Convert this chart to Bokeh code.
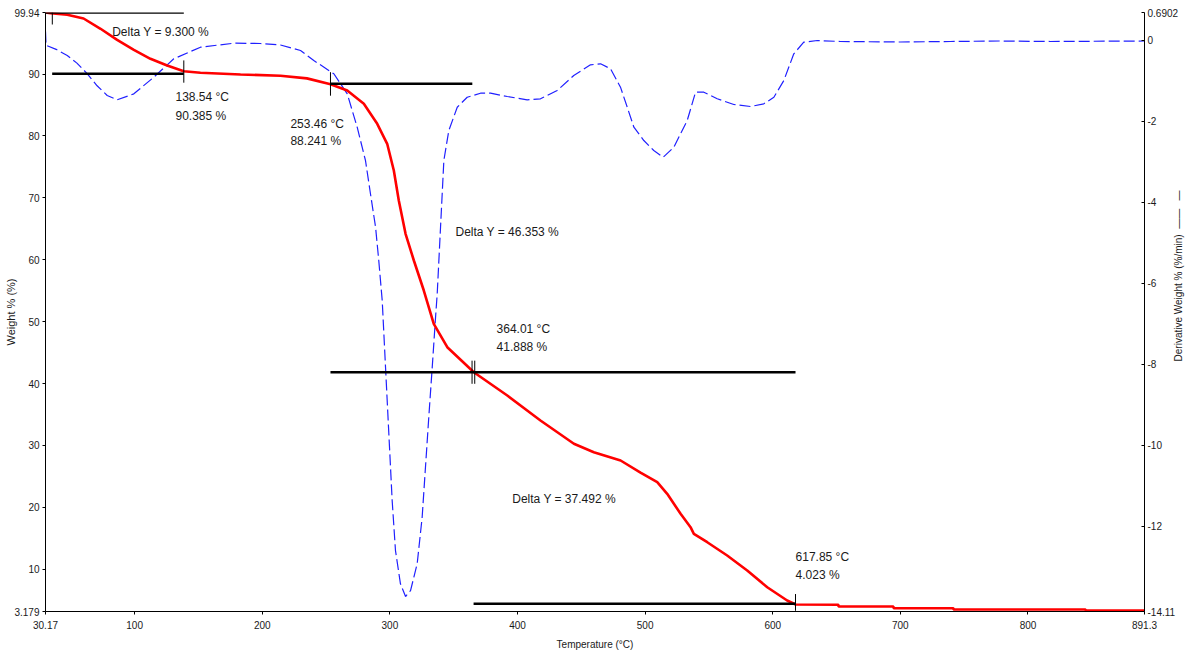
import math
from bokeh.plotting import figure
from bokeh.models import Range1d, LinearAxis, FixedTicker, Label
from bokeh.embed import file_html
from bokeh.resources import INLINE

# ---- data: weight (TGA) curve ----
temp_w = [30.17, 34.1, 47.2, 60.0, 73.3, 86.3, 99.4, 112.4, 125.5, 138.5, 151.6, 183.0,
          214.3, 235.0, 253.5, 266.6, 279.6, 290.1, 297.9, 303.1, 307.0, 312.3, 318.8,
          326.6, 334.4, 345.0, 365.8, 392.0, 418.0, 444.2, 459.8, 480.8, 496.4, 509.5,
          517.3, 527.8, 535.6, 538.2, 548.7, 564.3, 580.0, 595.7, 611.3, 617.9, 651.5,
          651.6, 694.6, 694.7, 741.6, 741.7, 845.1, 845.2, 891.3]
weight = [99.94, 99.83, 99.57, 98.97, 97.31, 95.53, 93.91, 92.46, 91.38, 90.45, 90.20,
          89.93, 89.72, 89.30, 88.35, 87.34, 85.19, 81.96, 78.73, 74.42, 69.57, 64.19,
          59.88, 55.03, 49.65, 45.87, 41.83, 38.07, 34.03, 30.27, 28.91, 27.57, 25.63,
          24.07, 22.19, 18.96, 16.80, 15.73, 14.37, 12.22, 9.80, 7.10, 4.95, 4.31, 4.26,
          3.98, 3.98, 3.71, 3.71, 3.50, 3.50, 3.34, 3.34]

# ---- data: derivative weight (DTG) curve ----
temp_d = [30.17, 30.6, 38.5, 47.2, 54.8, 62.8, 70.6, 78.5, 86.4, 99.4, 115.0, 130.7,
          151.6, 177.7, 198.6, 214.3, 230.0, 240.4, 256.1, 266.6, 274.4, 280.9, 284.8,
          288.8, 291.3, 294.0, 296.6, 299.2, 301.8, 304.4, 308.3, 312.3, 316.2, 321.4,
          325.3, 327.9, 330.5, 333.2, 335.8, 337.1, 339.7, 342.3, 346.2, 352.8, 360.6,
          371.0, 378.9, 392.0, 407.6, 418.0, 431.1, 444.1, 457.2, 465.1, 472.9, 480.7,
          486.0, 491.2, 499.0, 506.8, 514.2, 522.5, 533.0, 539.5, 546.0, 556.5, 569.5,
          582.6, 593.0, 600.9, 608.7, 616.5, 624.3, 634.9, 653.1, 700.1, 739.3, 778.5,
          817.6, 891.3]
deriv = [0.22, -0.12, -0.22, -0.372, -0.56, -0.82, -1.12, -1.36, -1.467, -1.319,
         -0.909, -0.454, -0.167, -0.068, -0.076, -0.113, -0.249, -0.496, -0.824, -1.319,
         -2.144, -2.967, -3.789, -4.613, -5.438, -6.426, -8.074, -9.720, -11.368,
         -12.604, -13.426, -13.740, -13.592, -12.932, -11.781, -10.546, -9.309, -8.074,
         -6.838, -6.260, -4.615, -2.967, -2.225, -1.650, -1.403, -1.304, -1.304, -1.385,
         -1.467, -1.442, -1.237, -0.866, -0.602, -0.577, -0.701, -1.155, -1.650, -2.144,
         -2.473, -2.720, -2.885, -2.638, -1.978, -1.279, -1.279, -1.442, -1.583, -1.632,
         -1.566, -1.403, -0.990, -0.330, -0.044, -0.002, -0.026, -0.039, -0.026, -0.014,
         -0.026, -0.014]

# ---- step analysis markers ----
step_y = [99.94, 90.04, 88.42, 41.83, 4.42]
step_x0 = [30.17, 35.4, 253.46, 253.46, 365.6]
step_x1 = [138.54, 138.54, 364.6, 617.85, 617.85]
mark_x = [35.5, 138.54, 253.46, 364.4, 366.5, 617.85]
mark_y0 = [98.0, 88.6, 86.5, 39.96, 39.96, 3.3]
mark_y1 = [99.94, 92.2, 90.3, 43.7, 43.7, 6.0]

# ---- ticks ----
x_ticks = [30.17, 100, 200, 300, 400, 500, 600, 700, 800, 891.3]
x_tick_labels = ["30.17", "100", "200", "300", "400", "500", "600", "700", "800", "891.3"]
y_ticks = [3.179, 10, 20, 30, 40, 50, 60, 70, 80, 90, 99.94]
y_tick_labels = ["3.179", "10", "20", "30", "40", "50", "60", "70", "80", "90", "99.94"]
d_ticks = [0.6902, 0, -2, -4, -6, -8, -10, -12, -14.11]
d_tick_labels = ["0.6902", "0", "-2", "-4", "-6", "-8", "-10", "-12", "-14.11"]

TXT = "#1a1a1a"
FONT = "Liberation Sans"
NB = "\u00a0"

p = figure(width=1192, height=658, x_range=Range1d(30.17, 891.3),
           y_range=Range1d(3.179, 99.94), output_backend="svg", toolbar_location=None,
           min_border_left=45, min_border_right=48, min_border_top=12, min_border_bottom=47)
p.extra_y_ranges = {"d": Range1d(-14.11, 0.6902)}
p.outline_line_color = None
p.xgrid.visible = False
p.ygrid.visible = False
p.background_fill_color = "white"
p.border_fill_color = "white"

for ax in (p.xaxis[0], p.yaxis[0]):
    ax.major_tick_in = 0
    ax.major_tick_out = 3
    ax.minor_tick_line_color = None
    ax.axis_line_color = "black"
    ax.major_tick_line_color = "black"
    ax.major_label_text_font = FONT
    ax.major_label_text_font_size = "10px"
    ax.major_label_text_color = TXT
    ax.axis_label_text_font = FONT
    ax.axis_label_text_font_style = "normal"
    ax.axis_label_text_color = TXT

p.xaxis.ticker = FixedTicker(ticks=x_ticks)
p.xaxis.major_label_overrides = {t: s for t, s in zip(x_ticks, x_tick_labels)}
p.xaxis.major_label_standoff = 6
p.xaxis.axis_label = "Temperature (°C)"
p.xaxis.axis_label_text_font_size = "10px"
p.xaxis.axis_label_standoff = 7

p.yaxis.ticker = FixedTicker(ticks=y_ticks)
p.yaxis.major_label_overrides = {t: s for t, s in zip(y_ticks, y_tick_labels)}
p.yaxis.major_label_standoff = 3
p.yaxis.axis_label = "Weight % (%)"
p.yaxis.axis_label_text_font_size = "11px"
p.yaxis.axis_label_standoff = -6

rax = LinearAxis(y_range_name="d", ticker=FixedTicker(ticks=d_ticks))
rax.major_label_overrides = {t: s for t, s in zip(d_ticks, d_tick_labels)}
rax.major_tick_in = 3
rax.major_tick_out = 0
rax.minor_tick_line_color = None
rax.major_label_standoff = 3
rax.major_label_text_font = FONT
rax.major_label_text_font_size = "10px"
rax.major_label_text_color = TXT
title_r = "Derivative Weight % (%/min)" + NB * 2 + "\u2014\u2014" + NB * 3 + "\u2014"
if hasattr(rax, "axis_label_align"):
    rax.axis_label_align = "start"
    rax.axis_label = NB * 90 + title_r
else:
    rax.axis_label = title_r
rax.axis_label_orientation = math.pi / 2
rax.axis_label_text_font = FONT
rax.axis_label_text_font_size = "10px"
rax.axis_label_text_font_style = "normal"
rax.axis_label_text_color = TXT
rax.axis_label_standoff = -3
p.add_layout(rax, "right")

# curves
p.line(temp_d, deriv, y_range_name="d", line_color="#2020ff", line_width=1.2,
       line_dash="11 4")
p.line(temp_w, weight, line_color="#ff0000", line_width=2.6)

# step markers
p.segment(x0=step_x0, y0=step_y, x1=step_x1, y1=step_y, line_color="black", line_width=2.4)
p.segment(x0=mark_x, y0=mark_y0, x1=mark_x, y1=mark_y1, line_color="black", line_width=1)

def lab(x, y, t):
    p.add_layout(Label(x=x, y=y, text=t, text_font=FONT, text_font_size="12px",
                       text_color=TXT, text_baseline="middle", text_align="left"))

lab(82.4, 96.76, "Delta Y = 9.300 %")
lab(132.0, 86.21, "138.54 °C")
lab(132.0, 83.30, "90.385 %")
lab(222.1, 81.96, "253.46 °C")
lab(222.1, 79.15, "88.241 %")
lab(351.4, 64.45, "Delta Y = 46.353 %")
lab(383.6, 48.84, "364.01 °C")
lab(383.6, 45.98, "41.888 %")
lab(395.9, 21.38, "Delta Y = 37.492 %")
lab(617.9, 12.06, "617.85 °C")
lab(617.9, 9.15, "4.023 %")

open("out.html", "w").write(file_html(p, INLINE))
